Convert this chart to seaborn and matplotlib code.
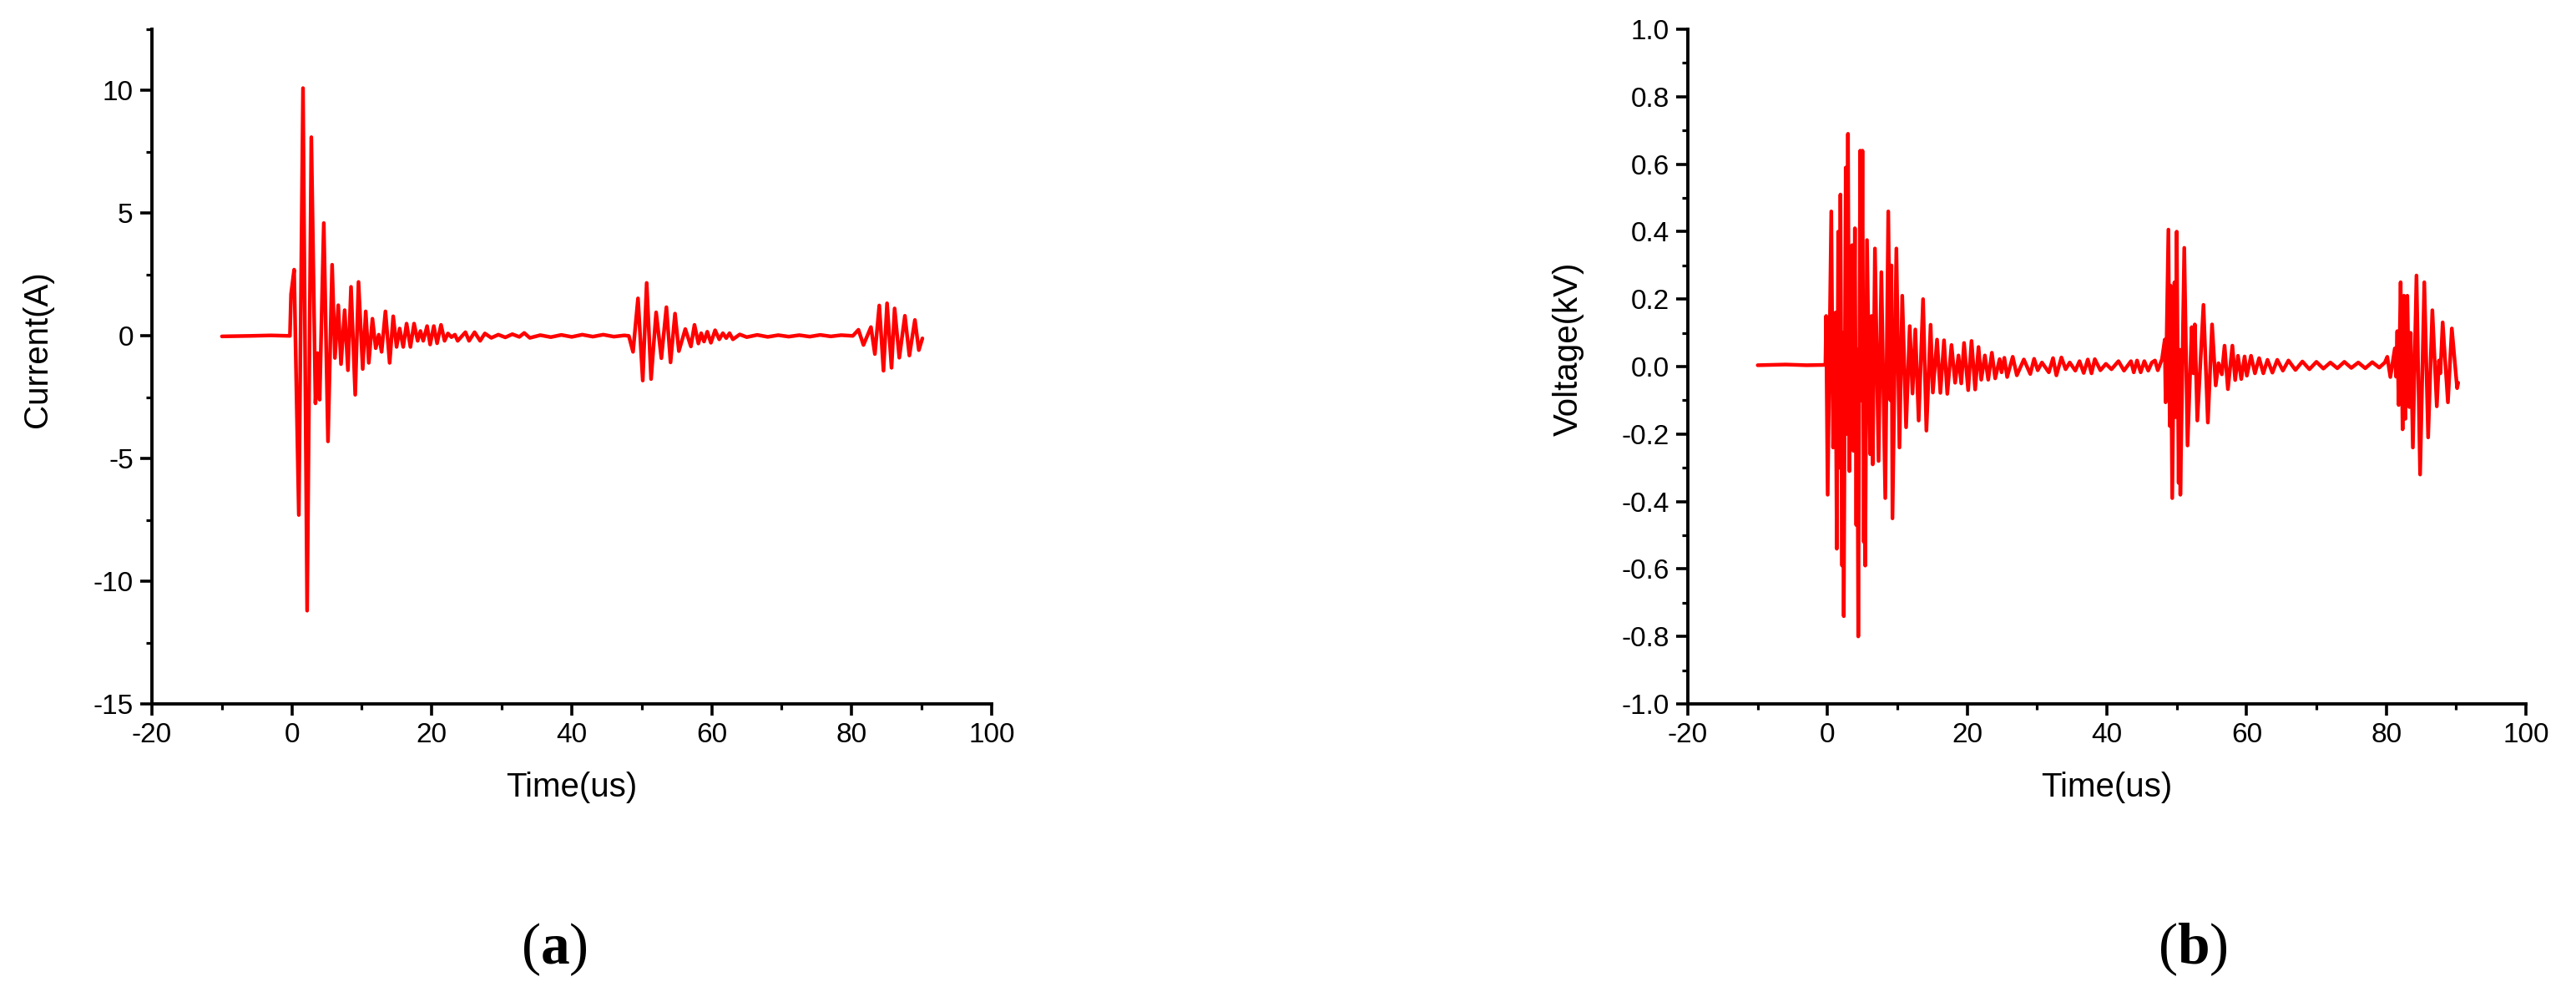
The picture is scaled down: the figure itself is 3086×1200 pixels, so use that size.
import matplotlib
matplotlib.use("Agg")
import matplotlib.pyplot as plt
import seaborn as sns
from matplotlib.ticker import MultipleLocator, FormatStrFormatter

# ---- current trace (a): time in us, current in A (peaks)
current_t = [
    -10.0, -6.0, -3.0, -0.28,
    -0.12, 0.32, 0.99, 1.59, 2.18, 2.78, 3.37, 3.65, 3.97, 4.56, 5.16, 5.75,
    6.15, 6.63, 7.02, 7.54, 8.01, 8.45, 9.05, 9.52, 10.12, 10.55, 10.99, 11.51,
    11.98, 12.42, 12.82, 13.37, 13.97, 14.48, 14.96, 15.4, 15.91, 16.39, 16.94,
    17.46, 17.97, 18.37, 18.77, 19.32, 19.76, 20.28, 20.75, 21.31, 21.82, 22.3,
    22.8, 23.3, 23.69, 24.8, 25.32, 26.11, 26.9, 27.58,
    28.5, 29.5, 30.5, 31.5, 32.5, 33.2, 34.0, 35.5, 37.0, 38.5, 40.0, 41.5,
    43.0, 44.5, 46.0, 47.5, 48.15,
    48.75, 49.46, 50.14, 50.7, 51.33, 52.05, 52.8, 53.52, 54.11, 54.75, 55.3,
    56.22, 57.02, 57.53, 58.09, 58.49, 58.89, 59.36, 59.88, 60.48, 61.07, 61.59,
    62.07, 62.54, 63.02,
    64.0, 65.0, 66.5, 68.0, 69.5, 71.0, 72.5, 74.0, 75.5, 77.0, 78.5, 80.16,
    80.96, 81.68, 82.75, 83.31, 83.94, 84.54, 85.05, 85.69, 86.13, 86.8, 87.6,
    88.24, 89.03, 89.59, 90.1,
]
current_a = [
    -0.02, 0.0, 0.02, 0.0,
    1.7, 2.7, -7.3, 10.1, -11.2, 8.1, -2.75, -0.7, -2.6, 4.6, -4.3, 2.9,
    -0.9, 1.25, -1.15, 1.05, -1.4, 2.0, -2.4, 2.2, -1.35, 1.0, -1.1, 0.7,
    -0.5, 0.05, -0.65, 1.0, -1.1, 0.8, -0.45, 0.3, -0.45, 0.5, -0.45,
    0.5, -0.2, 0.2, -0.2, 0.4, -0.35, 0.4, -0.3, 0.45, -0.2, 0.1,
    -0.05, 0.05, -0.2, 0.15, -0.2, 0.15, -0.2, 0.1,
    -0.08, 0.05, -0.06, 0.07, -0.04, 0.12, -0.08, 0.03, -0.05, 0.04, -0.04, 0.05,
    -0.03, 0.05, -0.03, 0.02, 0.0,
    -0.65, 1.53, -1.82, 2.16, -1.76, 0.96, -0.91, 1.17, -1.08, 0.91, -0.62,
    0.28, -0.43, 0.45, -0.31, 0.11, -0.23, 0.17, -0.28, 0.23, -0.14, 0.11,
    -0.09, 0.11, -0.14,
    0.06, -0.05, 0.04, -0.04, 0.03, -0.03, 0.03, -0.03, 0.04, -0.02, 0.03, 0.0,
    0.25, -0.37, 0.36, -0.74, 1.24, -1.42, 1.33, -1.3, 1.12, -0.89, 0.82,
    -0.8, 0.65, -0.58, -0.1,
]

# ---- voltage trace (b): time in us, voltage in kV
voltage_t = [
    -10.0, -6.0, -3.0, -0.3,
    -0.2, 0.02, 0.54, 0.8, 1.13, 1.33, 1.53, 1.7, 1.85, 2.09, 2.2, 2.33, 2.61,
    2.75, 2.93, 3.13, 3.52, 3.7, 3.92, 4.12, 4.25, 4.4, 4.68, 4.85, 5.0, 5.2,
    5.3, 5.4, 5.65, 6.11, 6.3, 6.47, 6.79, 7.31, 7.71, 8.27, 8.7, 9.0, 9.15,
    9.3, 9.86, 10.3, 10.7, 11.25, 11.77, 12.17, 12.57, 13.05, 13.68, 14.16,
    14.76, 15.08, 15.68, 16.16, 16.68, 17.15, 17.75, 18.27, 18.75, 19.15, 19.55,
    20.14, 20.62, 21.14, 21.62, 22.01, 22.53, 23.01, 23.53, 24.01, 24.64, 24.92,
    25.32, 25.72, 26.52, 27.11, 28.11, 29.03, 29.58, 30.1, 30.7, 31.69, 32.29,
    32.77, 33.49, 34.09, 34.68, 35.48, 36.08, 36.68, 37.27, 37.8, 38.27, 39.07,
    39.86, 40.66, 41.66, 42.45, 43.45, 43.85, 44.32, 44.84, 45.36, 45.92, 46.44,
    46.89, 47.29, 47.89, 48.29, 48.41, 48.81, 49.0, 49.12, 49.36, 49.68, 49.82,
    50.0, 50.28, 50.4, 50.52, 51.08, 51.55, 52.15, 52.39, 52.59, 52.95, 53.83,
    54.46, 55.06, 55.58, 55.98, 56.46, 56.85, 57.33, 57.97, 58.37, 58.77, 59.24,
    59.72, 60.04, 60.64,
    61.2, 61.8, 62.4, 63.0, 63.7, 64.4, 65.2, 66.0, 67.0, 68.0, 69.0, 70.0,
    71.0, 72.0, 73.0, 74.0, 75.0, 76.0, 77.0, 78.0, 79.0, 79.8,
    80.15, 80.59, 81.23, 81.4, 81.58, 81.78, 82.06, 82.34, 82.54, 82.74, 83.02,
    83.3, 83.5, 83.81, 84.33, 84.85, 85.45, 86.0, 86.6, 87.24, 87.55, 87.75,
    88.08, 88.83, 89.39, 90.15, 90.3,
]
voltage_kv = [
    0.004, 0.006, 0.004, 0.005,
    0.15, -0.38, 0.46, -0.24, 0.16, -0.54, 0.40, -0.30, 0.51, -0.59, 0.10, -0.74, 0.59,
    -0.20, 0.69, -0.31, 0.36, -0.25, 0.41, -0.47, 0.05, -0.80, 0.64, -0.10, 0.64, -0.52,
    0.0, -0.59, 0.375, -0.26, 0.15, -0.29, 0.35, -0.28, 0.28, -0.39, 0.46, -0.10, 0.30,
    -0.45, 0.35, -0.24, 0.21, -0.18, 0.12, -0.08, 0.11, -0.16, 0.20, -0.19,
    0.124, -0.077, 0.08, -0.078, 0.078, -0.081, 0.064, -0.048, 0.033, -0.05, 0.07,
    -0.07, 0.076, -0.068, 0.058, -0.039, 0.033, -0.039, 0.041, -0.035, 0.022, -0.017,
    0.026, -0.031, 0.029, -0.026, 0.021, -0.022, 0.023, -0.011, 0.012, -0.017, 0.025,
    -0.026, 0.027, -0.008, 0.012, -0.012, 0.016, -0.019, 0.021, -0.02, 0.022, -0.011,
    0.008, -0.008, 0.016, -0.012, 0.016, -0.017, 0.018, -0.017, 0.016, -0.012, 0.012,
    0.018, -0.011, 0.022, 0.08, -0.106, 0.406, -0.176, 0.24, -0.39, 0.25, -0.15,
    0.40, -0.345, 0.05, -0.38, 0.352, -0.234, 0.117, -0.02, 0.125, -0.16, 0.183,
    -0.166, 0.125, -0.056, 0.01, -0.023, 0.062, -0.067, 0.062, -0.04, 0.032, -0.037,
    0.03, -0.027, 0.032,
    -0.02, 0.025, -0.02, 0.02, -0.018, 0.02, -0.012, 0.018, -0.01, 0.015, -0.008, 0.014,
    -0.006, 0.012, -0.005, 0.014, -0.004, 0.012, -0.005, 0.013, -0.003, 0.012,
    0.029, -0.031, 0.054, -0.03, 0.105, -0.114, 0.25, -0.186, 0.21, -0.155, 0.21,
    -0.12, 0.10, -0.24, 0.27, -0.32, 0.25, -0.21, 0.167, -0.118, 0.018, -0.02,
    0.131, -0.106, 0.113, -0.064, -0.048,
]

W, H = 3086, 1200

sns.set_style("ticks")
plt.rcParams["font.family"] = ["Liberation Sans", "DejaVu Sans"]
plt.rcParams["axes.unicode_minus"] = False
plt.rcParams["text.color"] = "black"
plt.rcParams["axes.labelcolor"] = "black"
plt.rcParams["xtick.color"] = "black"
plt.rcParams["ytick.color"] = "black"
plt.rcParams["mathtext.fontset"] = "custom"
plt.rcParams["mathtext.rm"] = "Liberation Serif"
plt.rcParams["mathtext.bf"] = "Liberation Serif:bold"

fig = plt.figure(figsize=(W / 100, H / 100), dpi=100)
ax1 = fig.add_axes([182 / W, 1 - 843 / H, 1006 / W, 808 / H])
ax2 = fig.add_axes([2022 / W, 1 - 843 / H, 1004 / W, 808 / H])


def style_axis(ax, ylabel, ylim, ymajor, yminor, label_x):
    ax.set_xlim(-20, 100)
    ax.set_ylim(*ylim)
    ax.xaxis.set_major_locator(MultipleLocator(20))
    ax.xaxis.set_minor_locator(MultipleLocator(10))
    ax.yaxis.set_major_locator(MultipleLocator(ymajor))
    ax.yaxis.set_minor_locator(MultipleLocator(yminor))
    for side in ["top", "right"]:
        ax.spines[side].set_visible(False)
    for side in ["left", "bottom"]:
        ax.spines[side].set_linewidth(2.8)
        ax.spines[side].set_color("black")
    ax.tick_params(which="major", direction="out", length=10, width=2.6,
                   labelsize=24, pad=6, colors="black")
    ax.tick_params(which="minor", direction="out", length=5, width=2.3,
                   colors="black")
    ax.set_xlabel("Time(us)", fontsize=29, color="black")
    ax.set_ylabel(ylabel, fontsize=29, color="black")
    ax.xaxis.set_label_coords(0.5, -0.124)
    ax.yaxis.set_label_coords(label_x, 0.526)
    ax.xaxis.label.set_va("center")
    ax.yaxis.label.set_va("center")


sns.lineplot(x=current_t, y=current_a, ax=ax1, color="#ff0000",
             linewidth=3.2, estimator=None, sort=False)
sns.lineplot(x=voltage_t, y=voltage_kv, ax=ax2, color="#ff0000",
             linewidth=3.2, estimator=None, sort=False)

style_axis(ax1, "Current(A)", (-15, 12.5), 5, 2.5, -0.136)
style_axis(ax2, "Voltage(kV)", (-1.0, 1.0), 0.2, 0.1, -0.143)
ax2.yaxis.set_major_formatter(FormatStrFormatter("%.1f"))

fig.text(664 / W, 1 - 1137 / H, r"($\mathbf{a}$)", ha="center", va="center",
         fontsize=50, family="Liberation Serif", color="black")
fig.text(2627 / W, 1 - 1137 / H, r"($\mathbf{b}$)", ha="center", va="center",
         fontsize=50, family="Liberation Serif", color="black")

fig.savefig("out.png", dpi=100)
